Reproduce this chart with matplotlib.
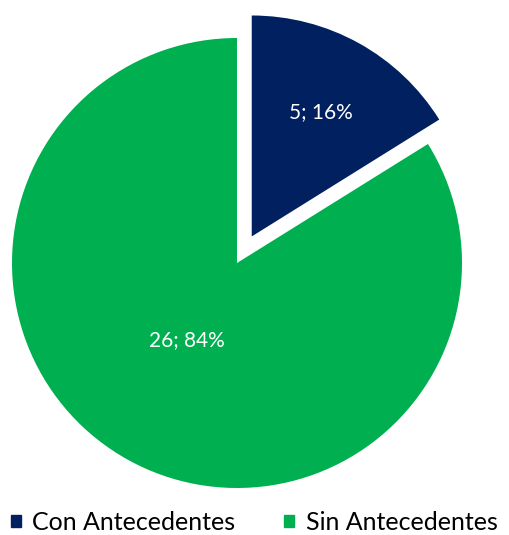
import matplotlib.pyplot as plt
import numpy as np

categorias = ['Con Antecedentes', 'Sin Antecedentes']
valores = [5, 26]
colores = ['#002060', '#00B050']
# distance of each value label from the pie centre (fraction of radius)
dist_etiqueta = [0.63, 0.41]

plt.rcParams['font.family'] = ['Lato', 'DejaVu Sans']

fig = plt.figure(figsize=(5.09, 5.35), dpi=100)
ax = fig.add_axes([0, 0, 1, 1])

R = 225.0
cx, cy = 237.0, 263.0

wedges, _ = ax.pie(valores, colors=colores, startangle=90, counterclock=False,
                   explode=[0.135, 0], radius=1, frame=True,
                   wedgeprops=dict(linewidth=0))
# the pulled-out slice is drawn a little smaller
wedges[0].set_radius(0.982)

ax.set_xlim(-cx / R, (509 - cx) / R)
ax.set_ylim(-(535 - cy) / R, cy / R)
ax.set_aspect('auto')
ax.axis('off')

total = sum(valores)
for w, v, d in zip(wedges, valores, dist_etiqueta):
    ang = np.deg2rad((w.theta1 + w.theta2) / 2 + (-4 if v > 10 else 0))
    x0, y0 = w.center
    ax.text(x0 + d * np.cos(ang), y0 + d * np.sin(ang),
            '%d; %d%%' % (v, round(100 * v / total)),
            ha='center', va='center', color='white', fontsize=15)

handles = [plt.Rectangle((0, 0), 1, 1, color=c) for c in colores]
fig.legend(handles, categorias, loc='lower left', bbox_to_anchor=(0.022, 0.002),
           ncol=2, frameon=False, fontsize=18, handlelength=0.4, handleheight=0.4,
           handletextpad=0.45, columnspacing=1.95, borderpad=0, borderaxespad=0)

fig.savefig('out.png', dpi=100)
